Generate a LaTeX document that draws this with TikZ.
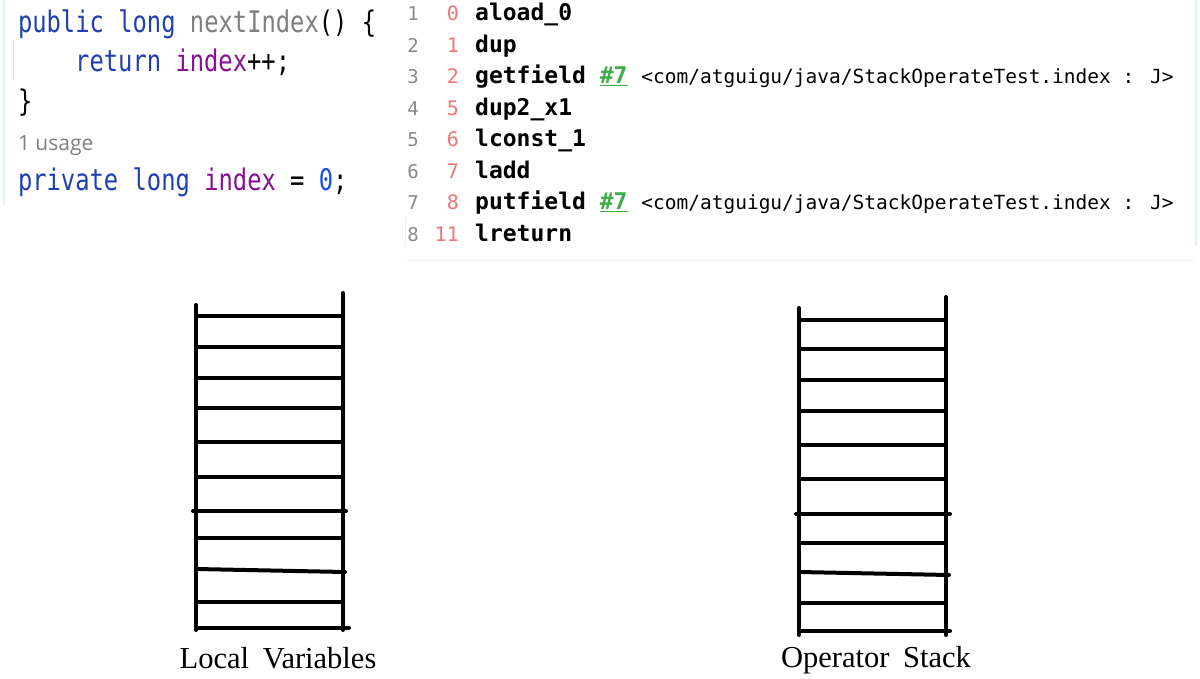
\documentclass[tikz,border=0pt]{standalone}
\usepackage{fontspec}
\usepackage{graphicx}
\newfontfamily\monofont{DejaVu Sans Mono}
\newfontfamily\uifont{Open Sans}
\newfontfamily\labelfont{Liberation Serif}
\definecolor{kwblue}{HTML}{1F3FB3}
\definecolor{numblue}{HTML}{1750EB}
\definecolor{fieldpurple}{HTML}{871094}
\definecolor{unusedgray}{HTML}{7F7F7F}
\definecolor{hintgray}{HTML}{808080}
\definecolor{lnumgray}{HTML}{8A8A8A}
\definecolor{offred}{HTML}{F07575}
\definecolor{refgreen}{HTML}{3DAE48}
\definecolor{paneledge}{HTML}{E2F3F7}
\definecolor{guidegray}{HTML}{E4E4E4}
\tikzset{
  codeline/.style={anchor=base west, inner sep=0pt, outer sep=0pt},
  lnum/.style={anchor=base, inner sep=0pt, text=lnumgray, font=\monofont\fontsize{19}{22}\selectfont},
  offnum/.style={anchor=base east, inner sep=0pt, text=offred, font=\monofont\fontsize{20}{22}\selectfont},
  instr/.style={anchor=base west, inner sep=0pt, font=\monofont\bfseries\fontsize{23}{26}\selectfont},
  rail/.style={line width=4pt, line cap=round, black},
  rung/.style={line width=4pt, line cap=round, black},
  caption/.style={anchor=base, inner sep=0pt, font=\labelfont\fontsize{30.5}{34}\selectfont},
}
\newcommand{\lcodefont}{\monofont\fontsize{23.8}{28}\selectfont}
\newcommand{\refcomment}{{\mdseries\fontsize{19.5}{22}\selectfont <com/atguigu/java/StackOperateTest.index : J>}}
\newcommand{\hashseven}{\textcolor{refgreen}{\underline{\#7}}}
\begin{document}
\begin{tikzpicture}[x=1pt,y=-1pt]
\useasboundingbox[fill=white] (0,0) rectangle (1200,679);
% panel edges
\draw[paneledge, line width=1.5pt] (4,0) -- (4,205);
\draw[guidegray, line width=1.5pt] (13.5,40) -- (13.5,80);
\draw[paneledge, line width=1.5pt] (1196,0) -- (1196,246);
\draw[paneledge, line width=1pt] (405,218) -- (405,247);
\draw[paneledge!60, line width=1pt] (405,261) -- (1196,261);

% left source code
\node[codeline] (src1) at (18,33) {\scalebox{1}[1.25]{\lcodefont\textcolor{kwblue}{public long} \textcolor{unusedgray}{nextIndex}() \{}};
\node[codeline] (src2) at (75.2,72) {\scalebox{1}[1.25]{\lcodefont\textcolor{kwblue}{return} \textcolor{fieldpurple}{index}++;}};
\node[codeline] (src3) at (18,112) {\scalebox{1}[1.25]{\lcodefont\}}};
\node[codeline] (src4) at (18,151) {\uifont\fontsize{21}{24}\selectfont\textcolor{hintgray}{1 usage}};
\node[codeline] (src5) at (18,191) {\scalebox{1}[1.25]{\lcodefont\textcolor{kwblue}{private long} \textcolor{fieldpurple}{index} = \textcolor{numblue}{0};}};

% bytecode listing
\foreach \i/\off/\yy in {1/0/21, 2/1/52.5, 3/2/84, 4/5/115.5, 5/6/147, 6/7/178.5, 7/8/210, 8/11/241.5}{
  \node[lnum] (ln\i) at (413,\yy) {\i};
  \node[offnum] (off\i) at (459,\yy) {\off};
}
\node[instr] (ins1) at (475,21) {aload\_0};
\node[instr] (ins2) at (475,52.5) {dup};
\node[instr] (ins3) at (475,84) {getfield \hashseven\ \refcomment};
\node[instr] (ins4) at (475,115.5) {dup2\_x1};
\node[instr] (ins5) at (475,147) {lconst\_1};
\node[instr] (ins6) at (475,178.5) {ladd};
\node[instr] (ins7) at (475,210) {putfield \hashseven\ \refcomment};
\node[instr] (ins8) at (475,241.5) {lreturn};

% Local Variables ladder
\coordinate (lvLT) at (196,305);
\coordinate (lvLB) at (196,630);
\coordinate (lvRT) at (343,293);
\coordinate (lvRB) at (343,630);
\draw[rail] (lvLT) -- (lvLB);
\draw[rail] (lvRT) -- (lvRB);
\foreach \yy in {316,347,378,408,442,477,538,602}{
  \draw[rung] (196,\yy) -- (343,\yy);
}
\draw[rung] (193,511) -- (346,511);
\draw[rung] (196,569) -- (345,572);
\draw[rung] (196,628) -- (349,628);
\node[caption] (lvlabel) at (278,668) {Local\hspace{0.45em}Variables};

% Operator Stack ladder
\coordinate (osLT) at (799,308);
\coordinate (osLB) at (799,635);
\coordinate (osRT) at (946,297);
\coordinate (osRB) at (946,635);
\draw[rail] (osLT) -- (osLB);
\draw[rail] (osRT) -- (osRB);
\foreach \yy in {320,349,380,411,479,543,603}{
  \draw[rung] (799,\yy) -- (946,\yy);
}
\draw[rung] (802,445) -- (946,445);
\draw[rung] (796,514) -- (950,514);
\draw[rung] (799,572) -- (949,575);
\draw[rung] (799,631) -- (950,631);
\node[caption] (oslabel) at (876,667) {Operator\hspace{0.45em}Stack};
\end{tikzpicture}
\end{document}
